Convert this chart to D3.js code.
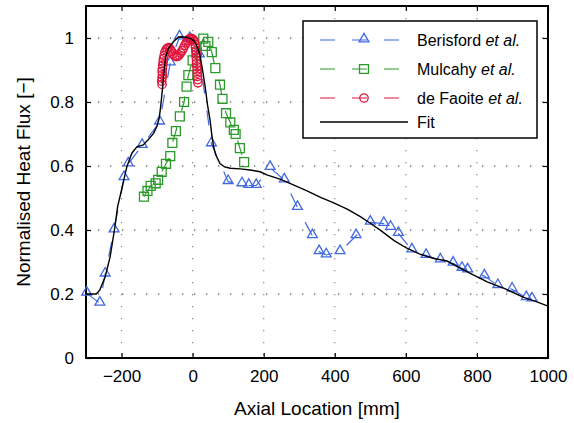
<!DOCTYPE html>
<html lang="en">
 <head>
 <meta http-equiv="Content-Type" content="text/html; charset=UTF-8">
        <title>Normalised heat flux</title>
        <script type="text/javascript" src="https://unpkg.com/d3@7/dist/d3.min.js"></script>
        <style>
          body { margin: 0; background: #fff; }
          text { font-family: "Liberation Sans", Arial, sans-serif; }
        </style>
 </head>
 <body>
        <script type="text/javascript">

          // measured series, [axial location mm, normalised flux]
          var berisford = [[-298,0.202],[-261,0.171],[-246,0.262],[-221,0.40],[-193,0.563],[-181,0.606],
            [-142,0.664],[-93,0.737],[-63,0.922],[-37,1.003],[-8,0.998],[19,0.947],[53,0.669],[100,0.551],
            [139,0.544],[158,0.539],[179,0.539],[218,0.595],[258,0.556],[295,0.47],[337,0.382],[356,0.332],
            [376,0.322],[415,0.332],[460,0.382],[500,0.424],[538,0.42],[557,0.408],[579,0.389],[617,0.3375],
            [657,0.32],[697,0.306],[733,0.296],[758,0.28],[774,0.275],[821,0.256],[859,0.226],[899,0.215],
            [939,0.188],[955,0.184]];

          var mulcahy = [[-137,0.504],[-127,0.522],[-118,0.538],[-104,0.546],[-97,0.557],[-87,0.582],
            [-75,0.607],[-63,0.631],[-57,0.672],[-47,0.709],[-36,0.755],[-24,0.80],[-17,0.848],[-12,0.884],
            [0,0.93],[12,0.955],[30,0.998],[36,0.975],[44,0.988],[54,0.956],[64,0.906],[77,0.854],[84,0.81],
            [94,0.765],[106,0.736],[116,0.713],[121,0.70],[133,0.656],[145,0.612]];

          var deFaoite = [[-86,0.855],[-87,0.865],[-86,0.875],[-85,0.885],[-86,0.895],[-85,0.905],
            [-84,0.915],[-83,0.925],[-82,0.935],[-80,0.945],[-78,0.955],[-75,0.963],[-71,0.968],[-67,0.97],
            [-63,0.966],[-59,0.958],[-55,0.95],[-50,0.944],[-46,0.942],[-42,0.943],[-38,0.947],[-34,0.953],
            [-30,0.96],[-26,0.968],[-22,0.977],[-18,0.985],[-14,0.992],[-10,0.997],[-6,0.999],[-2,0.998],
            [2,0.995],[5,0.99],[7,0.98],[8,0.97],[9,0.96],[10,0.95],[10,0.94],[11,0.93],[11,0.92],[12,0.91],
            [13,0.90],[13,0.89],[14,0.88],[14,0.87],[15,0.86]];

          var fit = [[-300,0.2],[-271,0.2],[-261,0.213],[-246,0.254],[-232,0.317],[-220,0.40],[-211,0.473],
            [-200,0.525],[-185,0.598],[-171,0.64],[-157,0.66],[-139,0.666],[-126,0.681],[-110,0.702],
            [-100,0.725],[-94,0.75],[-90,0.785],[-84,0.85],[-80,0.9],[-76,0.94],[-68,0.968],[-54,0.988],
            [-40,1.003],[-30,1.004],[-17,1.002],[-5,0.998],[5,0.99],[12,0.975],[20,0.95],[28,0.9],[35,0.85],
            [42,0.79],[49,0.744],[54,0.697],[59,0.66],[65,0.635],[77,0.608],[90,0.597],[106,0.593],
            [134,0.591],[162,0.5875],[190,0.582],[209,0.572],[248,0.558],[285,0.54],[322,0.522],[360,0.502],
            [397,0.485],[435,0.465],[472,0.442],[500,0.421],[529,0.399],[567,0.367],[603,0.343],[641,0.324],
            [679,0.311],[716,0.303],[754,0.28],[791,0.259],[829,0.238],[880,0.216],[930,0.19],[967,0.176],
            [1000,0.162]];

          var xTicks = [-200, 0, 200, 400, 600, 800, 1000];
          var yTicks = [0, 0.2, 0.4, 0.6, 0.8, 1];
          var seriesNames = ["Berisford", "Mulcahy", "de Faoite", "Fit"];

          var pL = 86, pR = 548, pT = 6, pB = 358;

          var svg = d3.select("body").append("svg")
                      .attr("width", 574).attr("height", 423);

          var x = d3.scaleLinear().domain([-300, 1000]).range([pL, pR]);
          var y = d3.scaleLinear().domain([0, 1.1]).range([pB, pT]);

          // dotted grid
          svg.append("g").selectAll("line").data(xTicks.filter(function(t){ return t < 1000; }))
             .enter().append("line")
             .attr("x1", function(d){ return x(d); }).attr("x2", function(d){ return x(d); })
             .attr("y1", pT).attr("y2", pB)
             .attr("stroke", "#888").attr("stroke-width", 1.2).attr("stroke-dasharray", "1.2,10.8");
          svg.append("g").selectAll("line").data(yTicks.filter(function(t){ return t > 0; }))
             .enter().append("line")
             .attr("x1", pL).attr("x2", pR)
             .attr("y1", function(d){ return y(d); }).attr("y2", function(d){ return y(d); })
             .attr("stroke", "#222").attr("stroke-width", 1.2).attr("stroke-dasharray", "1.2,10.8");

          var fmt = function(d){ return d < 0 ? "\u2212" + Math.abs(d) : String(d); };

          svg.append("g").attr("transform", "translate(0," + pB + ")")
             .call(d3.axisBottom(x).tickValues(xTicks).tickSize(-5).tickPadding(12).tickFormat(fmt));
          svg.append("g").attr("transform", "translate(" + pL + ",0)")
             .call(d3.axisLeft(y).tickValues(yTicks).tickSize(-5).tickPadding(12).tickFormat(fmt));
          svg.append("g").attr("transform", "translate(0," + pT + ")")
             .call(d3.axisTop(x).tickValues(xTicks).tickSize(-5).tickFormat(""));
          svg.append("g").attr("transform", "translate(" + pR + ",0)")
             .call(d3.axisRight(y).tickValues(yTicks).tickSize(-5).tickFormat(""));

          svg.selectAll(".domain").remove();
          svg.selectAll(".tick line").attr("stroke", "#000").attr("stroke-width", 1.2);
          svg.selectAll(".tick text").attr("font-size", 17).attr("fill", "#000")
             .attr("font-family", "Liberation Sans, Arial, sans-serif");

          svg.append("rect").attr("x", pL).attr("y", pT)
             .attr("width", pR - pL).attr("height", pB - pT)
             .attr("fill", "none").attr("stroke", "#000").attr("stroke-width", 2);

          var line = d3.line().x(function(d){ return x(d[0]); }).y(function(d){ return y(d[1]); });

          var blue = "#4169e1", green = "#2a9a2a", red = "#e0143c";

          var plot = svg.append("g");
          plot.append("path").datum(berisford).attr("d", line).attr("fill", "none")
              .attr("stroke", blue).attr("stroke-width", 1.2).attr("stroke-dasharray", "15,17");
          plot.append("path").datum(mulcahy).attr("d", line).attr("fill", "none")
              .attr("stroke", green).attr("stroke-width", 1.2).attr("stroke-dasharray", "15,17");
          plot.append("path").datum(deFaoite).attr("d", line).attr("fill", "none")
              .attr("stroke", red).attr("stroke-width", 1.2).attr("stroke-dasharray", "15,17");

          var tri = d3.symbol().type(d3.symbolTriangle).size(42);
          var sq = d3.symbol().type(d3.symbolSquare).size(80);
          var circ = d3.symbol().type(d3.symbolCircle).size(55);

          plot.selectAll(".tri").data(berisford).enter().append("path")
              .attr("d", tri).attr("transform", function(d){ return "translate(" + x(d[0]) + "," + (y(d[1]) - 1) + ")"; })
              .attr("fill", "none").attr("stroke", blue).attr("stroke-width", 1.3);
          plot.selectAll(".sq").data(mulcahy).enter().append("path")
              .attr("d", sq).attr("transform", function(d){ return "translate(" + x(d[0]) + "," + y(d[1]) + ")"; })
              .attr("fill", "none").attr("stroke", green).attr("stroke-width", 1.3);
          plot.selectAll(".circ").data(deFaoite).enter().append("path")
              .attr("d", circ).attr("transform", function(d){ return "translate(" + x(d[0]) + "," + y(d[1]) + ")"; })
              .attr("fill", "none").attr("stroke", red).attr("stroke-width", 1.3);

          plot.append("path").datum(fit).attr("d", line).attr("fill", "none")
              .attr("stroke", "#000").attr("stroke-width", 1.4);

          // axis titles
          svg.append("text").attr("x", (pL + pR) / 2).attr("y", 415)
             .attr("text-anchor", "middle").attr("font-size", 19).text("Axial Location [mm]");
          svg.append("text").attr("transform", "translate(30," + ((pT + pB) / 2) + ") rotate(-90)")
             .attr("text-anchor", "middle").attr("font-size", 19).text("Normalised Heat Flux [\u2212]");

          // legend
          var lg = svg.append("g");
          lg.append("rect").attr("x", 303).attr("y", 21).attr("width", 234).attr("height", 117)
            .attr("fill", "#fff").attr("stroke", "#000").attr("stroke-width", 1.5);
          var rows = [
            { name: seriesNames[0], color: blue, sym: tri, yy: 40 },
            { name: seriesNames[1], color: green, sym: sq, yy: 69 },
            { name: seriesNames[2], color: red, sym: circ, yy: 98 },
            { name: seriesNames[3], color: "#000", sym: null, yy: 122 }
          ];
          rows.forEach(function(r){
            lg.append("line").attr("x1", 320).attr("x2", 408).attr("y1", r.yy).attr("y2", r.yy)
              .attr("stroke", r.color).attr("stroke-width", r.sym ? 1.2 : 1.4)
              .attr("stroke-dasharray", r.sym ? "15,17" : null);
            if (r.sym) {
              lg.append("path").attr("d", r.sym).attr("transform", "translate(364," + (r.yy - (r.sym === tri ? 1 : 0)) + ")")
                .attr("fill", "none").attr("stroke", r.color).attr("stroke-width", 1.3);
            }
            var t = lg.append("text").attr("x", 417).attr("y", r.yy + 6).attr("font-size", 16);
            t.append("tspan").text(r.name + (r.sym ? " " : ""));
            if (r.sym) t.append("tspan").attr("font-style", "italic").text("et al.");
          });

        </script>
    </body>
</html>
